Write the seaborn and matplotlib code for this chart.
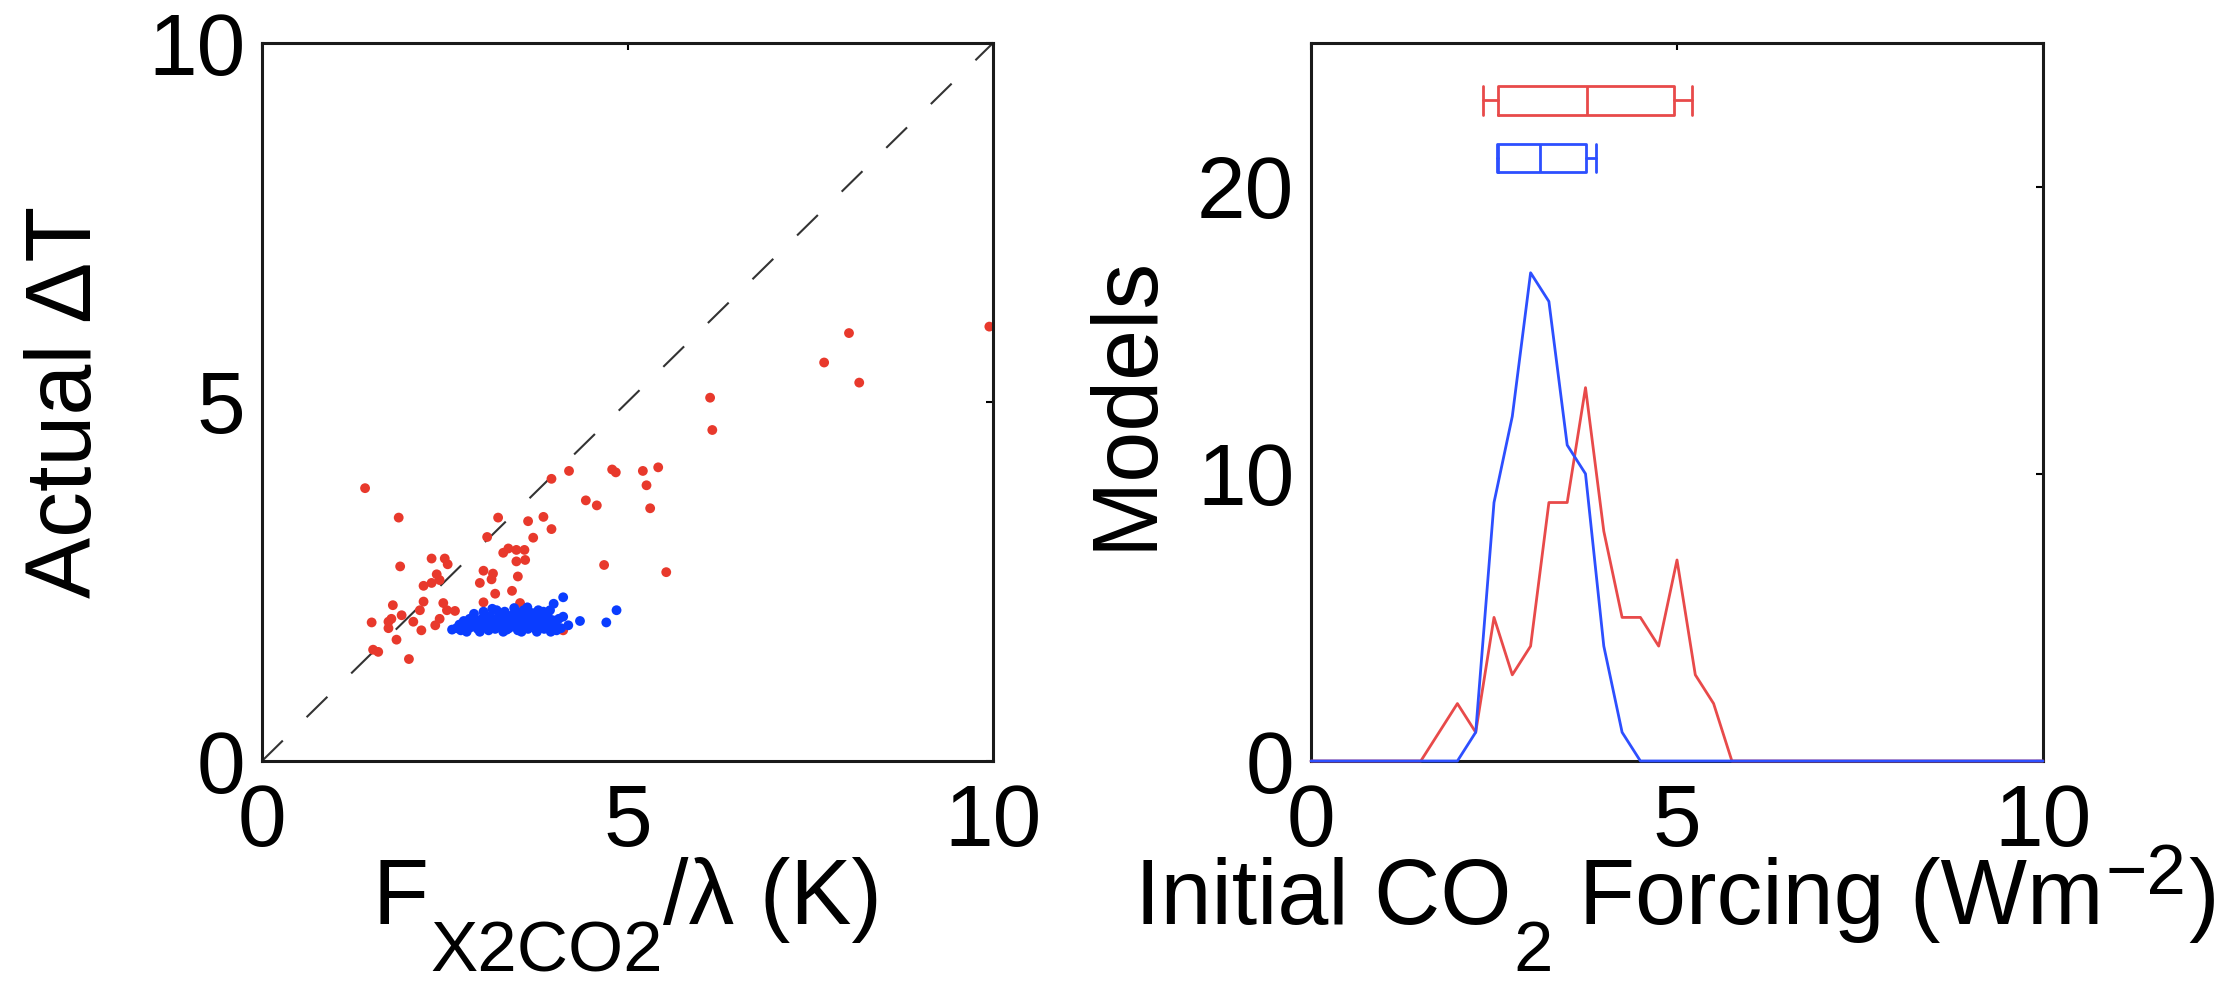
import matplotlib
matplotlib.use("Agg")
import matplotlib.pyplot as plt
from matplotlib.transforms import IdentityTransform
import seaborn as sns
import pandas as pd

# ---- scatter: F_x2CO2 / lambda vs actual warming ----
red_x = [9.95, 8.03, 7.69, 8.17, 6.13, 6.16, 4.20, 4.79, 4.84, 5.21, 5.42, 5.26,
         4.43, 4.58, 5.31, 3.96, 3.96, 4.68, 5.53, 1.41, 1.87, 3.23, 3.64, 3.85,
         3.08, 3.71, 3.37, 3.30, 3.48, 3.59, 3.48, 3.60, 2.32, 2.50, 2.54, 1.89,
         2.39, 3.03, 3.16, 3.14, 3.50, 2.32, 2.21, 2.43, 2.98, 3.42, 3.19, 2.21,
         1.79, 2.48, 3.03, 3.53, 2.16, 2.64, 2.53, 1.91, 1.50, 1.73, 1.77, 2.07,
         2.43, 2.37, 1.73, 2.18, 1.84, 1.52, 1.59, 2.01, 4.12]
red_y = [6.05, 5.96, 5.55, 5.27, 5.06, 4.61, 4.04, 4.06, 4.02, 4.04, 4.09, 3.84,
         3.63, 3.56, 3.52, 3.93, 3.23, 2.73, 2.63, 3.80, 3.39, 3.39, 3.34, 3.40,
         3.12, 3.11, 2.96, 2.90, 2.94, 2.94, 2.78, 2.80, 2.82, 2.82, 2.74, 2.71,
         2.60, 2.65, 2.61, 2.53, 2.57, 2.48, 2.44, 2.52, 2.48, 2.37, 2.33, 2.22,
         2.17, 2.20, 2.21, 2.20, 2.10, 2.09, 2.10, 2.03, 1.93, 1.94, 1.98, 1.94,
         1.98, 1.89, 1.85, 1.82, 1.69, 1.55, 1.52, 1.42, 1.82]

blue_x = [4.12, 3.99, 3.94, 3.78, 4.85, 4.35, 4.71, 4.12, 4.19, 4.03,
          2.60, 2.66, 2.72, 2.78, 2.70, 2.80, 2.85, 2.88, 2.92, 2.95, 2.98, 3.00,
          3.02, 3.05, 3.08, 3.10, 3.12, 3.14, 3.17, 3.19, 3.21, 3.23, 3.25, 3.27,
          3.29, 3.30, 3.32, 3.34, 3.36, 3.38, 3.40, 3.42, 3.44, 3.46, 3.48, 3.50,
          3.52, 3.54, 3.56, 3.58, 3.60, 3.62, 3.64, 3.66, 3.68, 3.70, 3.72, 3.74,
          3.76, 3.79, 3.81, 3.84, 3.86, 3.89, 3.91, 3.95, 3.98, 4.02, 4.06, 4.09,
          2.90, 3.03, 3.15, 2.76, 2.84, 3.45, 3.63, 3.35, 3.55, 3.85, 3.95]
blue_y = [2.28, 2.19, 2.10, 2.10, 2.10, 1.95, 1.93, 2.01, 1.89, 1.82,
          1.83, 1.85, 1.82, 1.88, 1.90, 1.80, 1.86, 1.93, 1.97, 1.84, 1.80, 1.90,
          1.99, 1.86, 1.94, 1.82, 2.02, 1.90, 1.97, 1.84, 2.10, 1.93, 2.04, 1.88,
          1.98, 1.80, 2.08, 1.92, 2.00, 1.85, 1.95, 2.03, 1.89, 1.97, 2.08, 1.82,
          1.93, 2.00, 1.87, 2.10, 1.95, 2.03, 1.84, 1.91, 1.99, 2.06, 1.88, 1.95,
          1.80, 2.00, 1.90, 1.97, 1.84, 1.93, 2.02, 1.88, 1.96, 1.90, 1.98, 1.85,
          2.05, 2.08, 2.12, 1.95, 1.98, 2.13, 2.14, 1.83, 1.80, 2.08, 1.80]

# ---- histogram of initial CO2 forcing (bin centres, W m-2) ----
bin_centres = [0.00, 0.25, 0.50, 0.75, 1.00, 1.25, 1.50, 1.75, 2.00, 2.25,
               2.50, 2.75, 3.00, 3.25, 3.50, 3.75, 4.00, 4.25, 4.50, 4.75,
               5.00, 5.25, 5.50, 5.75, 6.00, 6.25, 6.50, 6.75, 7.00, 7.25,
               7.50, 7.75, 8.00, 8.25, 8.50, 8.75, 9.00, 9.25, 9.50, 9.75, 10.00]
red_counts = [0, 0, 0, 0, 0, 0, 0, 1, 2, 1,
              5, 3, 4, 9, 9, 13, 8, 5, 5, 4,
              7, 3, 2, 0, 0, 0, 0, 0, 0, 0,
              0, 0, 0, 0, 0, 0, 0, 0, 0, 0, 0]
blue_counts = [0, 0, 0, 0, 0, 0, 0, 0, 0, 1,
               9, 12, 17, 16, 11, 10, 4, 1, 0, 0,
               0, 0, 0, 0, 0, 0, 0, 0, 0, 0,
               0, 0, 0, 0, 0, 0, 0, 0, 0, 0, 0]

# ---- box summaries drawn above the histograms ----
box_positions = [23.0, 21.0]
box_whislo = [2.35, 2.54]
box_q1 = [2.56, 2.56]
box_med = [3.77, 3.13]
box_q3 = [4.96, 3.75]
box_whishi = [5.21, 3.90]

RED_PT = "#e8392c"
BLUE_PT = "#0a3dff"
RED_LN = "#e84a4a"
BLUE_LN = "#2d4fff"

sns.set_style("white")
plt.rcParams["font.family"] = ["Liberation Sans", "DejaVu Sans"]
plt.rcParams["text.color"] = "black"
plt.rcParams["axes.labelcolor"] = "black"

W, H = 2233, 984
fig = plt.figure(figsize=(W / 100, H / 100), dpi=100)
ax1 = fig.add_axes([262 / W, (H - 761) / H, 731 / W, 718 / H])
ax2 = fig.add_axes([1311 / W, (H - 761) / H, 732 / W, 718 / H])

TICK_FS = 63
LABEL_FS = 66
SUB_FS = 51


def style_axes(ax):
    for s in ax.spines.values():
        s.set_visible(True)
        s.set_linewidth(2.2)
        s.set_color("#1a1a1a")
    ax.tick_params(direction="in", length=5, width=1.5, top=True, right=True,
                   labelsize=TICK_FS, colors="black")
    ax.tick_params(axis="y", pad=12)
    ax.tick_params(axis="x", pad=16)
    ax.grid(False)


def mixed_label(pieces, cx, baseline):
    """Lay out a label made of runs of different sizes / baseline shifts.

    pieces: (text, fontsize, drop_px, gap_px); positions in image pixels.
    """
    renderer = fig.canvas.get_renderer()
    arts, widths = [], []
    for txt, size, drop, gap in pieces:
        t = fig.text(0, 0, txt, fontsize=size, ha="left", va="baseline",
                     color="black", transform=IdentityTransform())
        arts.append(t)
        widths.append(t.get_window_extent(renderer).width)
    total = sum(widths) + sum(p[3] for p in pieces)
    x = cx - total / 2
    for t, w, p in zip(arts, widths, pieces):
        x += p[3]
        t.set_position((x, H - (baseline + p[2])))
        x += w


# left panel
scat = pd.DataFrame({
    "x": red_x + blue_x,
    "y": red_y + blue_y,
    "group": ["red"] * len(red_x) + ["blue"] * len(blue_x),
})
ax1.axline((0, 0), slope=1, color="#333333", lw=1.5, ls=(0, (14, 16)), zorder=1)
sns.scatterplot(data=scat, x="x", y="y", hue="group",
                palette={"red": RED_PT, "blue": BLUE_PT},
                s=50, linewidth=0, legend=False, ax=ax1, zorder=2)
ax1.set_xlim(0, 10)
ax1.set_ylim(0, 10)
ax1.set_xticks([0, 5, 10])
ax1.set_yticks([0, 5, 10])
ax1.set_xlabel("")
ax1.set_ylabel("Actual ΔT", fontsize=LABEL_FS, va="baseline")
ax1.yaxis.set_label_coords((91 - 262) / 731, 0.5)
style_axes(ax1)

# right panel
hist = pd.DataFrame({
    "x": bin_centres + bin_centres,
    "n": red_counts + blue_counts,
    "group": ["red"] * len(bin_centres) + ["blue"] * len(bin_centres),
})
sns.lineplot(data=hist, x="x", y="n", hue="group",
             palette={"red": RED_LN, "blue": BLUE_LN},
             linewidth=2.0, legend=False, ax=ax2, estimator=None, zorder=3,
             clip_on=False)

for i, col in enumerate([RED_LN, BLUE_LN]):
    st = dict(med=box_med[i], q1=box_q1[i], q3=box_q3[i],
              whislo=box_whislo[i], whishi=box_whishi[i], fliers=[])
    lp = dict(color=col, linewidth=2.0)
    ax2.bxp([st], positions=[box_positions[i]], widths=1.0, capwidths=1.0,
            orientation="horizontal", showfliers=False,
            boxprops=lp, whiskerprops=lp, capprops=lp,
            medianprops=lp, manage_ticks=False)

ax2.set_xlim(0, 10)
ax2.set_ylim(0, 25)
ax2.set_xticks([0, 5, 10])
ax2.set_yticks([0, 10, 20])
ax2.set_xlabel("")
ax2.set_ylabel("Models", fontsize=LABEL_FS, va="baseline")
ax2.yaxis.set_label_coords((1150 - 1311) / 732, 0.5)
style_axes(ax2)

# x-axis labels with full-height subscripts / superscripts
BASE = 924
mixed_label([("F", LABEL_FS, 0, 0),
             ("X2CO2", SUB_FS, 47, 2),
             ("/λ (K)", LABEL_FS, 0, 0)],
            cx=(262 + 993) / 2, baseline=BASE)
mixed_label([("Initial CO", LABEL_FS, 0, 0),
             ("2", SUB_FS, 47, 2),
             ("Forcing (Wm", LABEL_FS, 0, 26),
             ("−2", SUB_FS, -30, 2),
             (")", LABEL_FS, 0, 2)],
            cx=(1311 + 2043) / 2, baseline=BASE)

fig.savefig("out.png", dpi=100, facecolor="white")
